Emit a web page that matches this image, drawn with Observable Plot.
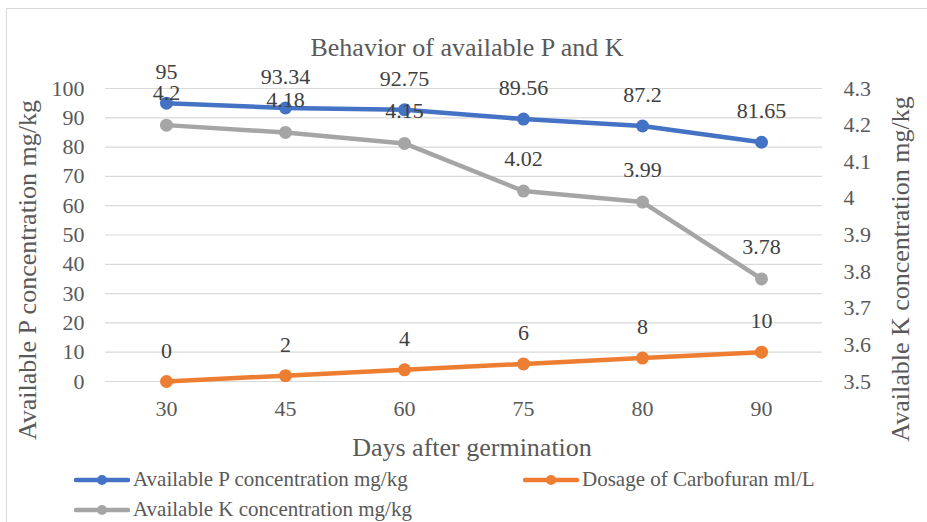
<!DOCTYPE html>
<html>
<head>
<meta charset="utf-8">
<script src="https://cdn.jsdelivr.net/npm/d3@7"></script>
<script src="https://cdn.jsdelivr.net/npm/@observablehq/plot@0.6"></script>
<style>
  html, body { margin: 0; padding: 0; background: #fff; overflow: hidden; }
  #wrap { position: relative; width: 927px; height: 522px; font-family: "Liberation Serif", "Times New Roman", Tinos, "DejaVu Serif", serif; }
  #frame { position: absolute; left: 6px; top: 8px; width: 960px; height: 600px; border: 1.5px solid #d9d9d9; box-sizing: border-box; pointer-events: none; }
  #chart { position: absolute; left: 0; top: 0; }
  .leg { position: absolute; display: flex; align-items: center; font-size: 21px; color: #595959; white-space: nowrap; }
  .leg svg { margin-right: 3px; }
</style>
</head>
<body>
<div id="wrap">
  <div id="frame"></div>
  <div id="chart"></div>
  <div class="leg" id="leg0" style="left:74px; top:467px;"></div>
  <div class="leg" id="leg1" style="left:523px; top:467px;"></div>
  <div class="leg" id="leg2" style="left:74px; top:497px;"></div>
</div>
<script>
// ---- data ----
const days = [30, 45, 60, 75, 80, 90];
const pValues = [95, 93.34, 92.75, 89.56, 87.2, 81.65];
const dosageValues = [0, 2, 4, 6, 8, 10];
const kValues = [4.2, 4.18, 4.15, 4.02, 3.99, 3.78];
const pTicks = [0, 10, 20, 30, 40, 50, 60, 70, 80, 90, 100];
const kTicks = [3.5, 3.6, 3.7, 3.8, 3.9, 4, 4.1, 4.2, 4.3];
const seriesNames = ["Available P concentration mg/kg", "Dosage of Carbofuran ml/L", "Available K concentration mg/kg"];
const seriesColors = ["#4472C4", "#ED7D31", "#A5A5A5"];
const titleText = "Behavior of available P and K";
const xTitle = "Days after germination";
const yTitleLeft = "Available P concentration mg/kg";
const yTitleRight = "Available K concentration mg/kg";

// secondary axis mapping (K domain 3.5–4.3 onto primary 0–100)
const kDomain = [3.5, 4.3];
const pDomain = [0, 100];
const kToP = k => pDomain[0] + (k - kDomain[0]) / (kDomain[1] - kDomain[0]) * (pDomain[1] - pDomain[0]);
const pToK = p => kDomain[0] + (p - pDomain[0]) / (pDomain[1] - pDomain[0]) * (kDomain[1] - kDomain[0]);

const pData = days.map((d, i) => ({day: d, v: pValues[i], label: String(pValues[i])}));
const dData = days.map((d, i) => ({day: d, v: dosageValues[i], label: String(dosageValues[i])}));
const kData = days.map((d, i) => ({day: d, v: kToP(kValues[i]), label: String(kValues[i])}));

const textColor = "#595959";
const labelColor = "#404040";
const lw = 4.5, r = 6.5;
const serif = '"Liberation Serif", "Times New Roman", Tinos, "DejaVu Serif", serif';

const chart = Plot.plot({
  width: 927,
  height: 470,
  marginLeft: 105,
  marginRight: 105,
  marginTop: 88,
  marginBottom: 89,
  style: {fontFamily: serif, background: "transparent", overflow: "visible"},
  x: {type: "point", domain: days, padding: 0.5},
  y: {domain: pDomain},
  marks: [
    Plot.gridY(pTicks, {stroke: "#d9d9d9", strokeOpacity: 1, strokeWidth: 1.2}),
    Plot.axisY(pTicks, {anchor: "left", tickSize: 0, tickPadding: 21, fontSize: 22, fill: textColor, label: null}),
    Plot.axisY(kTicks.map(kToP), {anchor: "right", tickSize: 0, tickPadding: 21, fontSize: 22, fill: textColor, label: null,
      tickFormat: d => String(Math.round(pToK(d) * 10) / 10)}),
    Plot.axisX({tickSize: 0, tickPadding: 19, fontSize: 22, fill: textColor, label: null}),
    // series
    Plot.line(pData, {x: "day", y: "v", stroke: seriesColors[0], strokeWidth: lw}),
    Plot.dot(pData, {x: "day", y: "v", r: r, fill: seriesColors[0]}),
    Plot.line(dData, {x: "day", y: "v", stroke: seriesColors[1], strokeWidth: lw}),
    Plot.dot(dData, {x: "day", y: "v", r: r, fill: seriesColors[1]}),
    Plot.line(kData, {x: "day", y: "v", stroke: seriesColors[2], strokeWidth: lw}),
    Plot.dot(kData, {x: "day", y: "v", r: r, fill: seriesColors[2]}),
    // data labels
    Plot.text(pData, {x: "day", y: "v", text: "label", dy: -31, fontSize: 22, fill: labelColor}),
    Plot.text(dData, {x: "day", y: "v", text: "label", dy: -31, fontSize: 22, fill: labelColor}),
    Plot.text(kData, {x: "day", y: "v", text: "label", dy: -32, fontSize: 22, fill: labelColor}),
    // titles
    Plot.text([titleText], {frameAnchor: "top", lineAnchor: "middle", textAnchor: "middle", dx: 3, dy: -41, fontSize: 26, fill: textColor}),
    Plot.text([xTitle], {frameAnchor: "bottom", lineAnchor: "middle", textAnchor: "middle", dx: 8, dy: 66, fontSize: 26, fill: textColor}),
    Plot.text([yTitleLeft], {frameAnchor: "left", lineAnchor: "middle", textAnchor: "middle", dx: -78, dy: 35, rotate: -90, fontSize: 26, fill: textColor}),
    Plot.text([yTitleRight], {frameAnchor: "right", lineAnchor: "middle", textAnchor: "middle", dx: 78, dy: 34, rotate: -90, fontSize: 26, fill: textColor})
  ]
});
document.getElementById("chart").appendChild(chart);

// legend
seriesNames.forEach((name, i) => {
  const el = document.getElementById("leg" + i);
  const c = seriesColors[i];
  el.innerHTML = `<svg width="56" height="14"><line x1="2" y1="7" x2="54" y2="7" stroke="${c}" stroke-width="4.5" stroke-linecap="round"/><circle cx="28" cy="7" r="5" fill="${c}"/></svg><span>${name}</span>`;
});
</script>
</body>
</html>
